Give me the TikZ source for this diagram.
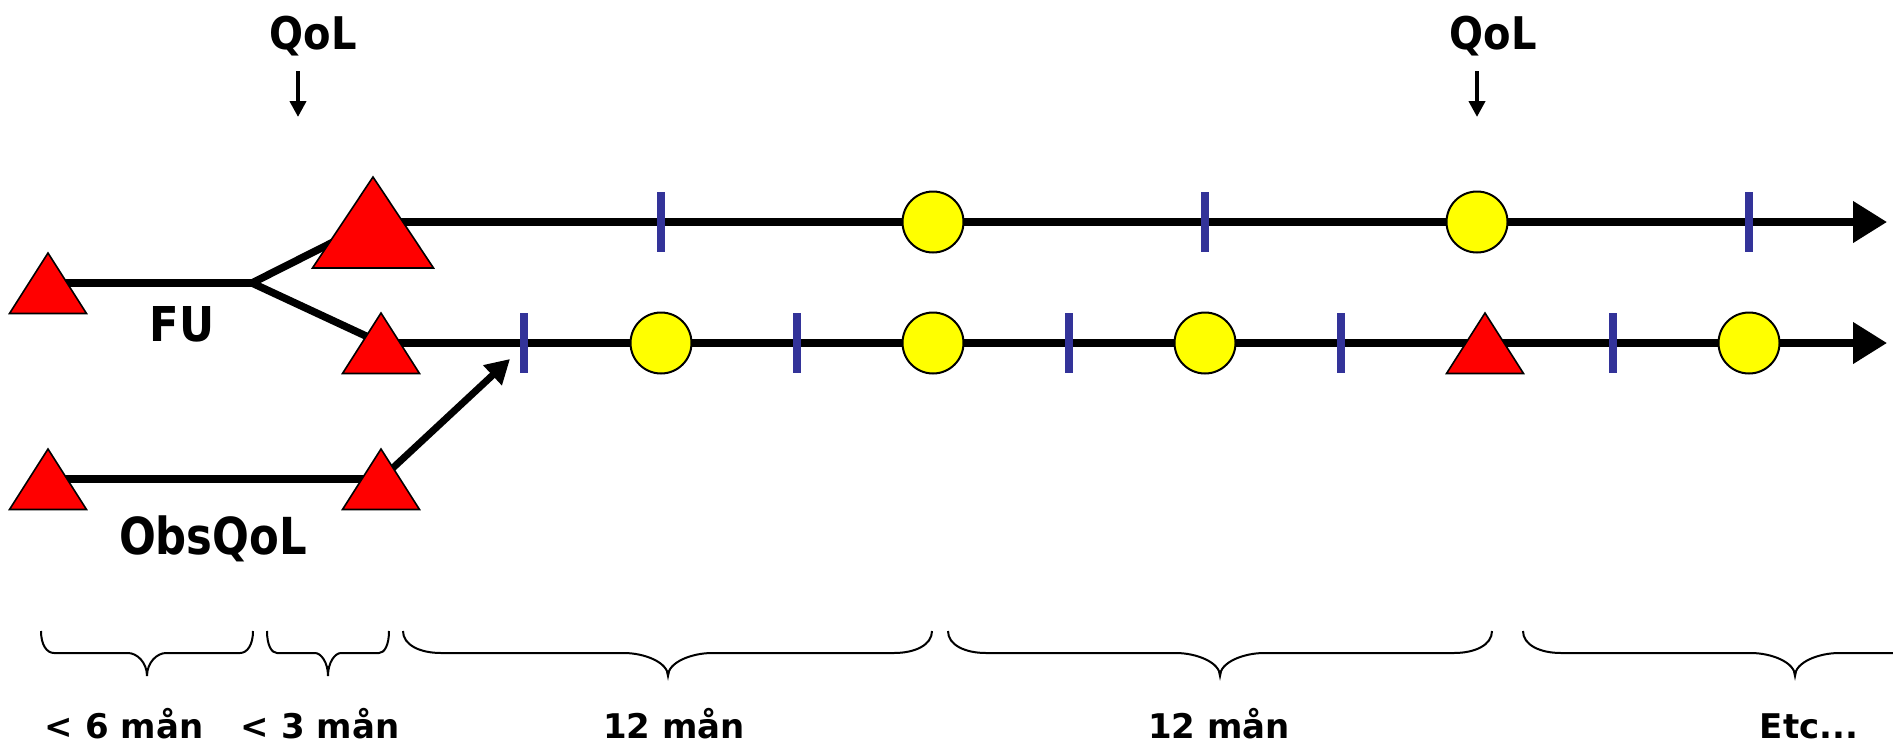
\documentclass[tikz,border=0pt]{standalone}
\usepackage{fontspec}
\setmainfont{DejaVu Sans}
\newfontfamily\qolfont{DejaVu Sans}[FakeStretch=0.89]
\newfontfamily\obsfont{DejaVu Sans}[FakeStretch=0.85]
\newfontfamily\fufont{DejaVu Sans}[FakeStretch=0.9]
\newfontfamily\bfont{DejaVu Sans}[FakeStretch=1.0]
\usetikzlibrary{arrows.meta}
\definecolor{tickblue}{HTML}{333399}
\definecolor{trired}{HTML}{FF0000}
\definecolor{circyellow}{HTML}{FFFF00}
\newcommand{\mybrace}[5]{% x0, x1, xm, end curl, mid curl
  \draw[bracestyle] (#1,631) .. controls (#1,645) and ({#1+0.45*#4},653) .. ({#1+#4},653)
    -- ({#3-#5},653) .. controls ({#3-0.55*#5},653) and (#3,662) .. (#3,676)
    .. controls (#3,662) and ({#3+0.55*#5},653) .. ({#3+#5},653)
    -- ({#2-#4},653) .. controls ({#2-0.45*#4},653) and (#2,645) .. (#2,631);}
\newcommand{\smalltri}[1]{\path[tristyle] (#1) ++(0,-30) -- ++(38.5,60.5) -- ++(-77,0) -- cycle;}
\newcommand{\bigtri}[1]{\path[tristyle] (#1) ++(0,-45) -- ++(60.5,91) -- ++(-121,0) -- cycle;}
\tikzset{
  mainline/.style={line width=7.5pt, black},
  tristyle/.style={fill=trired, draw=black, line width=1.6pt, line join=miter},
  circstyle/.style={circle, fill=circyellow, draw=black, line width=2pt, minimum size=61pt, inner sep=0pt},
  tickstyle/.style={rectangle, fill=tickblue, minimum width=8pt, minimum height=60pt, inner sep=0pt},
  bracestyle/.style={line width=2pt, black},
  lbl/.style={anchor=base, inner sep=0pt},
  endarrow/.style={-{Triangle[length=34pt,width=40pt]}},
  qarrow/.style={line width=4pt, -{Triangle[length=16pt,width=16pt]}},
  diagarrow/.style={line width=7pt, -{Triangle[length=24pt,width=26pt]}},
}
\begin{document}
\begin{tikzpicture}[x=1pt,y=-1pt]
\useasboundingbox (0,0) rectangle (1893,750);
\begin{scope}
\clip (0,0) rectangle (1893,750);
% reference points of the triangles (line level)
\coordinate (tFU) at (48,283);
\coordinate (tObs) at (48,479);
\coordinate (tBig) at (373,222);
\coordinate (tRow) at (381,343);
\coordinate (tObsEnd) at (381,479);
\coordinate (tRow2) at (1485,343);
\coordinate (J) at (252,283);
\coordinate (end1) at (1887,222);
\coordinate (end2) at (1887,343);
\coordinate (diagEnd) at (510,359);
\coordinate (qa1s) at (298,71);
\coordinate (qa1e) at (298,117);
\coordinate (qa2s) at (1477,71);
\coordinate (qa2e) at (1477,117);

% lines
\draw[mainline] (tFU) -- (J);
\draw[mainline] (J) -- (tBig);
\draw[mainline] (J) -- (tRow);
\draw[mainline] (tObs) -- (tObsEnd);
\draw[mainline, endarrow] (tBig) -- (end1);
\draw[mainline, endarrow] (tRow) -- (end2);
\draw[diagarrow] (tObsEnd) -- (diagEnd);
\draw[qarrow] (qa1s) -- (qa1e);
\draw[qarrow] (qa2s) -- (qa2e);

% triangles
\smalltri{tFU}
\smalltri{tObs}
\bigtri{tBig}
\smalltri{tRow}
\smalltri{tObsEnd}
\smalltri{tRow2}

% ticks and circles, row 1
\node[tickstyle] (k11) at (661,222) {};
\node[circstyle] (c11) at (933,222) {};
\node[tickstyle] (k12) at (1205,222) {};
\node[circstyle] (c12) at (1477,222) {};
\node[tickstyle] (k13) at (1749,222) {};
% row 2
\node[tickstyle] (k21) at (524,343) {};
\node[circstyle] (c21) at (661,343) {};
\node[tickstyle] (k22) at (797,343) {};
\node[circstyle] (c22) at (933,343) {};
\node[tickstyle] (k23) at (1069,343) {};
\node[circstyle] (c23) at (1205,343) {};
\node[tickstyle] (k24) at (1341,343) {};
\node[tickstyle] (k25) at (1613,343) {};
\node[circstyle] (c24) at (1749,343) {};

% labels
\node[lbl, font=\qolfont\bfseries\fontsize{45}{54}\selectfont] (q1) at (313,49) {QoL};
\node[lbl, font=\qolfont\bfseries\fontsize{45}{54}\selectfont] (q2) at (1493,49) {QoL};
\node[lbl, font=\fufont\bfseries\fontsize{48}{56}\selectfont] (fu) at (182,341) {FU};
\node[lbl, font=\obsfont\bfseries\fontsize{51}{60}\selectfont] (obs) at (213,554) {ObsQoL};

% braces
\mybrace{41}{253}{147}{13}{19}
\mybrace{267}{389}{328}{10}{13}
\mybrace{403}{932}{668}{38}{44}
\mybrace{948}{1492}{1220}{38}{44}
\mybrace{1523}{2067}{1795}{38}{44}

\node[lbl, font=\bfont\bfseries\fontsize{34}{40}\selectfont] (b1) at (124,738) {< 6 mån};
\node[lbl, font=\bfont\bfseries\fontsize{34}{40}\selectfont] (b2) at (320,738) {< 3 mån};
\node[lbl, font=\bfont\bfseries\fontsize{34}{40}\selectfont] (b3) at (674,738) {12 mån};
\node[lbl, font=\bfont\bfseries\fontsize{34}{40}\selectfont] (b4) at (1219,738) {12 mån};
\node[lbl, font=\bfont\bfseries\fontsize{34}{40}\selectfont] (b5) at (1809,738) {Etc...};
\end{scope}
\end{tikzpicture}
\end{document}
